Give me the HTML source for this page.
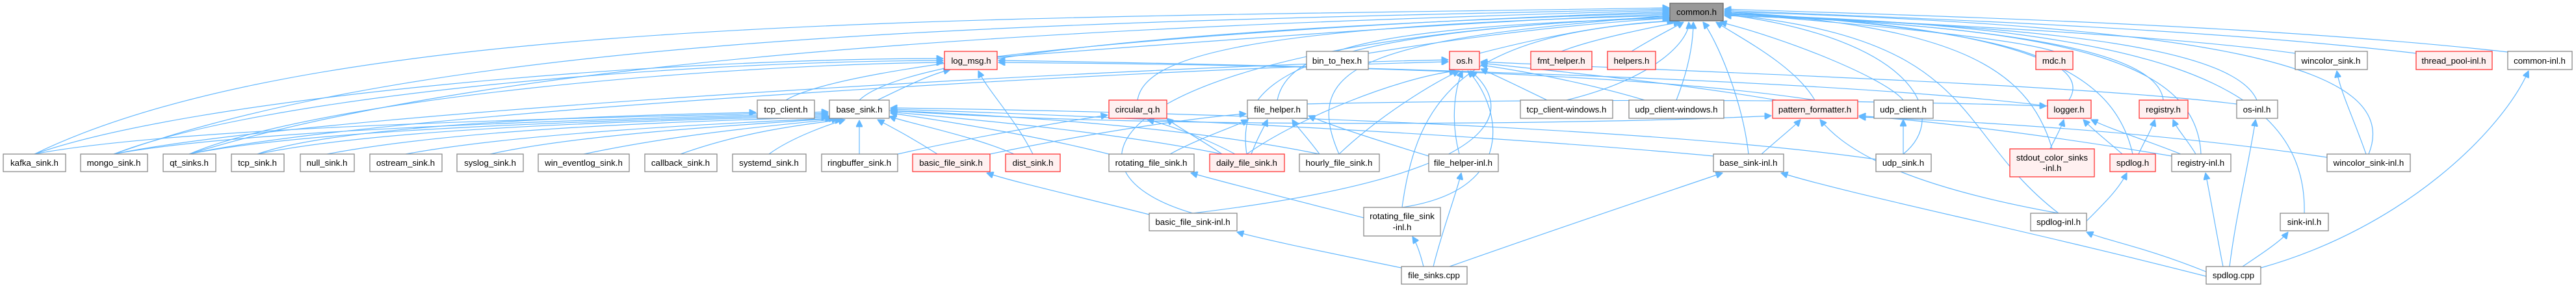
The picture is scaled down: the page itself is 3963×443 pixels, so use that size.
<!DOCTYPE html>
<html><head><meta charset="utf-8"><style>
html,body{margin:0;padding:0;background:#fff;}
svg{display:block;}
text{font-family:"Liberation Sans",Arial,sans-serif;font-size:13.3px;fill:#000;text-anchor:middle;}
.n{fill:#fff;stroke:#888;stroke-width:1.3;}
.r{fill:#fff0f0;stroke:#f33;stroke-width:1.3;}
.g{fill:#999;stroke:#666;stroke-width:1.3;}
path{fill:none;stroke:#63b8ff;stroke-width:1.2;}
</style></head><body>
<svg width="3963" height="443" viewBox="0 0 3963 443" xmlns="http://www.w3.org/2000/svg">
<defs><marker id="a" viewBox="0 0 10 10" refX="10" refY="5" markerWidth="11" markerHeight="10" markerUnits="userSpaceOnUse" orient="auto"><path d="M0,0 L10,5 L0,10 z" style="fill:#63b8ff;stroke:#63b8ff"/></marker></defs>
<g marker-end="url(#a)">
<path d="M53,237 C500,20 1500,30 2568,12"/>
<path d="M175,237 C700,50 1600,35 2568,14"/>
<path d="M291,237 C800,80 1700,40 2568,16"/>
<path d="M1209,154 C1300,100 1800,45 2568,18"/>
<path d="M1322,154 C1400,80 1900,40 2568,20"/>
<path d="M1534,88 C1900,60 2300,30 2568,22"/>
<path d="M1750,154 C1760,90 1900,40 2568,24"/>
<path d="M1835,328 C1600,260 1700,60 2568,26"/>
<path d="M1965,154 C1980,80 2100,40 2568,28"/>
<path d="M1918,237 C1900,120 2000,50 2568,26"/>
<path d="M2060,237 C2000,100 2100,60 2568,24"/>
<path d="M2105,82 C2300,50 2450,35 2570,28"/>
<path d="M2276,82 C2400,50 2500,35 2575,32"/>
<path d="M2157,319 C2180,150 2250,50 2578,32"/>
<path d="M2402,79 C2450,60 2550,40 2585,34"/>
<path d="M2510,79 C2540,60 2580,40 2590,34"/>
<path d="M2410,154 C2550,120 2600,60 2598,34"/>
<path d="M2579,154 C2600,100 2605,60 2605,34"/>
<path d="M2690,237 C2680,150 2640,60 2620,34"/>
<path d="M2792,154 C2760,100 2680,60 2640,34"/>
<path d="M2928,154 C2900,120 2750,60 2646,34"/>
<path d="M2928,237 C3000,180 2950,60 2653,22"/>
<path d="M3160,79 C3100,60 2900,40 2653,20"/>
<path d="M3183,154 C3230,80 3000,40 2653,18"/>
<path d="M3157,229 C3120,100 3000,40 2653,18"/>
<path d="M3281,237 C3250,100 3100,40 2653,20"/>
<path d="M3328,154 C3320,80 3100,40 2653,22"/>
<path d="M3386,237 C3380,100 3200,40 2653,24"/>
<path d="M3472,154 C3440,80 3200,40 2653,24"/>
<path d="M3545,328 C3550,120 3300,40 2653,22"/>
<path d="M3531,82 C3300,50 2900,35 2653,20"/>
<path d="M3644,237 C3700,100 3400,40 2653,18"/>
<path d="M3717,82 C3400,45 3000,30 2653,16"/>
<path d="M3858,80 C3500,40 3000,25 2653,14"/>
<path d="M3167,328 C3000,200 3050,60 2653,22"/>
<path d="M53,237 C300,150 1000,90 1451,90"/>
<path d="M175,237 C400,150 1000,95 1451,93"/>
<path d="M291,237 C500,150 1100,100 1451,96"/>
<path d="M1350,154 C1400,130 1430,115 1462,107"/>
<path d="M1589,237 C1560,180 1520,140 1505,109"/>
<path d="M2792,154 C2500,110 2000,100 1536,96"/>
<path d="M3150,163 C2800,120 2000,100 1536,93"/>
<path d="M53,237 C300,190 1000,180 1274,172"/>
<path d="M175,237 C400,195 1000,182 1274,174"/>
<path d="M291,237 C500,195 1000,184 1274,176"/>
<path d="M396,237 C600,195 1000,186 1274,178"/>
<path d="M503,237 C700,200 1000,188 1274,180"/>
<path d="M624,237 C800,205 1100,190 1280,182"/>
<path d="M754,237 C900,205 1150,192 1285,182"/>
<path d="M898,237 C1050,205 1200,192 1290,183"/>
<path d="M1047,237 C1150,200 1250,190 1295,184"/>
<path d="M1183,237 C1220,210 1280,190 1300,184"/>
<path d="M1322,237 L1322,185"/>
<path d="M1442,237 C1400,210 1370,195 1350,184"/>
<path d="M1560,237 C1500,210 1400,190 1368,179"/>
<path d="M1706,237 C1600,210 1450,185 1370,174"/>
<path d="M1880,237 C1700,200 1450,180 1370,172"/>
<path d="M2030,237 C1800,190 1500,176 1370,170"/>
<path d="M2636,240 C2200,200 1600,175 1370,168"/>
<path d="M2886,245 C2500,190 1700,170 1370,166"/>
<path d="M396,237 C500,200 800,180 1163,173"/>
<path d="M175,237 C500,170 1800,100 2228,92"/>
<path d="M291,237 C600,170 1800,105 2228,95"/>
<path d="M1918,237 C2000,180 2150,120 2240,109"/>
<path d="M2060,237 C2120,180 2200,130 2245,109"/>
<path d="M2245,237 C2230,180 2240,130 2250,109"/>
<path d="M2157,319 C2350,290 2300,150 2258,109"/>
<path d="M1835,328 C2400,260 2300,140 2262,109"/>
<path d="M2380,154 C2330,130 2300,115 2278,106"/>
<path d="M2530,154 C2450,130 2350,110 2278,100"/>
<path d="M2750,157 C2600,130 2400,110 2278,97"/>
<path d="M3441,160 C3200,130 2600,110 2278,95"/>
<path d="M1381,237 C1500,210 1650,185 1704,177"/>
<path d="M1900,237 C1850,210 1790,190 1765,184"/>
<path d="M1880,237 C1840,210 1810,195 1795,182"/>
<path d="M1523,237 C1700,200 1850,180 1917,175"/>
<path d="M1800,237 C1850,210 1900,195 1920,184"/>
<path d="M1925,237 C1935,210 1945,195 1950,184"/>
<path d="M2030,237 C2010,210 1995,195 1988,184"/>
<path d="M2198,240 C2100,210 2040,190 2013,178"/>
<path d="M1368,170 C1800,200 2500,190 2725,178"/>
<path d="M2710,237 C2740,210 2760,195 2770,184"/>
<path d="M3167,328 C2900,280 2830,220 2800,184"/>
<path d="M3341,240 C3100,200 2950,185 2860,178"/>
<path d="M3580,242 C3300,200 3000,185 2860,180"/>
<path d="M2928,237 L2928,184"/>
<path d="M3150,237 C3160,215 3170,200 3175,184"/>
<path d="M3265,237 C3240,215 3220,200 3205,184"/>
<path d="M3355,237 C3300,215 3250,200 3217,184"/>
<path d="M2000,160 C2500,150 2900,155 3148,163"/>
<path d="M3290,237 C3300,215 3310,200 3315,184"/>
<path d="M3378,237 C3365,215 3350,200 3343,184"/>
<path d="M3210,340 C3240,310 3260,290 3272,266"/>
<path d="M3420,410 C3410,360 3400,300 3393,266"/>
<path d="M3430,410 C3440,330 3460,250 3470,184"/>
<path d="M3640,237 C3620,180 3600,140 3595,109"/>
<path d="M3478,412 C3700,350 3850,200 3890,109"/>
<path d="M3394,418 C3300,380 3240,370 3210,357"/>
<path d="M3450,410 C3480,390 3510,370 3520,357"/>
<path d="M3394,425 C3100,350 2850,300 2740,266"/>
<path d="M2230,410 C2400,350 2550,300 2650,266"/>
<path d="M1768,330 C1650,300 1560,280 1518,266"/>
<path d="M2156,412 C2050,390 1950,370 1903,357"/>
<path d="M2190,410 C2185,390 2180,375 2173,364"/>
<path d="M2205,410 C2220,350 2240,300 2248,266"/>
<path d="M2098,335 C2000,310 1900,285 1832,266"/>
</g>
<rect class="g" x="2569" y="5" width="82" height="27"/><text x="2610" y="23">common.h</text>
<rect class="r" x="1453" y="79" width="81" height="28"/><text x="1494" y="98">log_msg.h</text>
<rect class="n" x="2010" y="79" width="95" height="28"/><text x="2057" y="98">bin_to_hex.h</text>
<rect class="r" x="2230" y="79" width="46" height="28"/><text x="2253" y="98">os.h</text>
<rect class="r" x="2355" y="79" width="94" height="28"/><text x="2402" y="98">fmt_helper.h</text>
<rect class="r" x="2473" y="79" width="74" height="28"/><text x="2510" y="98">helpers.h</text>
<rect class="r" x="3132" y="79" width="57" height="28"/><text x="3160" y="98">mdc.h</text>
<rect class="n" x="3531" y="79" width="111" height="28"/><text x="3586" y="98">wincolor_sink.h</text>
<rect class="r" x="3717" y="79" width="117" height="28"/><text x="3775" y="98">thread_pool-inl.h</text>
<rect class="n" x="3858" y="79" width="99" height="28"/><text x="3907" y="98">common-inl.h</text>
<rect class="n" x="1165" y="154" width="88" height="28"/><text x="1209" y="173">tcp_client.h</text>
<rect class="n" x="1276" y="154" width="92" height="28"/><text x="1322" y="173">base_sink.h</text>
<rect class="r" x="1706" y="154" width="89" height="28"/><text x="1750" y="173">circular_q.h</text>
<rect class="n" x="1919" y="154" width="92" height="28"/><text x="1965" y="173">file_helper.h</text>
<rect class="n" x="2339" y="154" width="142" height="28"/><text x="2410" y="173">tcp_client-windows.h</text>
<rect class="n" x="2506" y="154" width="146" height="28"/><text x="2579" y="173">udp_client-windows.h</text>
<rect class="r" x="2727" y="154" width="131" height="28"/><text x="2792" y="173">pattern_formatter.h</text>
<rect class="n" x="2883" y="154" width="91" height="28"/><text x="2928" y="173">udp_client.h</text>
<rect class="r" x="3150" y="154" width="67" height="28"/><text x="3183" y="173">logger.h</text>
<rect class="r" x="3291" y="154" width="75" height="28"/><text x="3328" y="173">registry.h</text>
<rect class="n" x="3441" y="154" width="63" height="28"/><text x="3472" y="173">os-inl.h</text>
<rect class="n" x="5" y="237" width="96" height="27"/><text x="53" y="255">kafka_sink.h</text>
<rect class="n" x="124" y="237" width="103" height="27"/><text x="175" y="255">mongo_sink.h</text>
<rect class="n" x="251" y="237" width="81" height="27"/><text x="291" y="255">qt_sinks.h</text>
<rect class="n" x="356" y="237" width="81" height="27"/><text x="396" y="255">tcp_sink.h</text>
<rect class="n" x="462" y="237" width="83" height="27"/><text x="503" y="255">null_sink.h</text>
<rect class="n" x="569" y="237" width="111" height="27"/><text x="624" y="255">ostream_sink.h</text>
<rect class="n" x="703" y="237" width="102" height="27"/><text x="754" y="255">syslog_sink.h</text>
<rect class="n" x="828" y="237" width="140" height="27"/><text x="898" y="255">win_eventlog_sink.h</text>
<rect class="n" x="992" y="237" width="111" height="27"/><text x="1047" y="255">callback_sink.h</text>
<rect class="n" x="1127" y="237" width="113" height="27"/><text x="1183" y="255">systemd_sink.h</text>
<rect class="n" x="1264" y="237" width="117" height="27"/><text x="1322" y="255">ringbuffer_sink.h</text>
<rect class="r" x="1404" y="237" width="119" height="27"/><text x="1463" y="255">basic_file_sink.h</text>
<rect class="r" x="1547" y="237" width="84" height="27"/><text x="1589" y="255">dist_sink.h</text>
<rect class="n" x="1706" y="237" width="131" height="27"/><text x="1771" y="255">rotating_file_sink.h</text>
<rect class="r" x="1861" y="237" width="115" height="27"/><text x="1918" y="255">daily_file_sink.h</text>
<rect class="n" x="1999" y="237" width="123" height="27"/><text x="2060" y="255">hourly_file_sink.h</text>
<rect class="n" x="2198" y="237" width="107" height="27"/><text x="2251" y="255">file_helper-inl.h</text>
<rect class="n" x="2636" y="237" width="108" height="27"/><text x="2690" y="255">base_sink-inl.h</text>
<rect class="n" x="2886" y="237" width="85" height="27"/><text x="2928" y="255">udp_sink.h</text>
<rect class="r" x="3092" y="229" width="130" height="43"/><text x="3157" y="247">stdout_color_sinks</text><text x="3157" y="263">-inl.h</text>
<rect class="r" x="3246" y="237" width="70" height="27"/><text x="3281" y="255">spdlog.h</text>
<rect class="n" x="3341" y="237" width="91" height="27"/><text x="3386" y="255">registry-inl.h</text>
<rect class="n" x="3580" y="237" width="128" height="27"/><text x="3644" y="255">wincolor_sink-inl.h</text>
<rect class="n" x="2098" y="319" width="118" height="44"/><text x="2157" y="337">rotating_file_sink</text><text x="2157" y="354">-inl.h</text>
<rect class="n" x="1768" y="328" width="135" height="27"/><text x="1835" y="346">basic_file_sink-inl.h</text>
<rect class="n" x="3124" y="328" width="86" height="27"/><text x="3167" y="346">spdlog-inl.h</text>
<rect class="n" x="3508" y="328" width="74" height="27"/><text x="3545" y="346">sink-inl.h</text>
<rect class="n" x="2156" y="410" width="101" height="27"/><text x="2206" y="428">file_sinks.cpp</text>
<rect class="n" x="3394" y="410" width="84" height="27"/><text x="3436" y="428">spdlog.cpp</text>
</svg>
</body></html>
